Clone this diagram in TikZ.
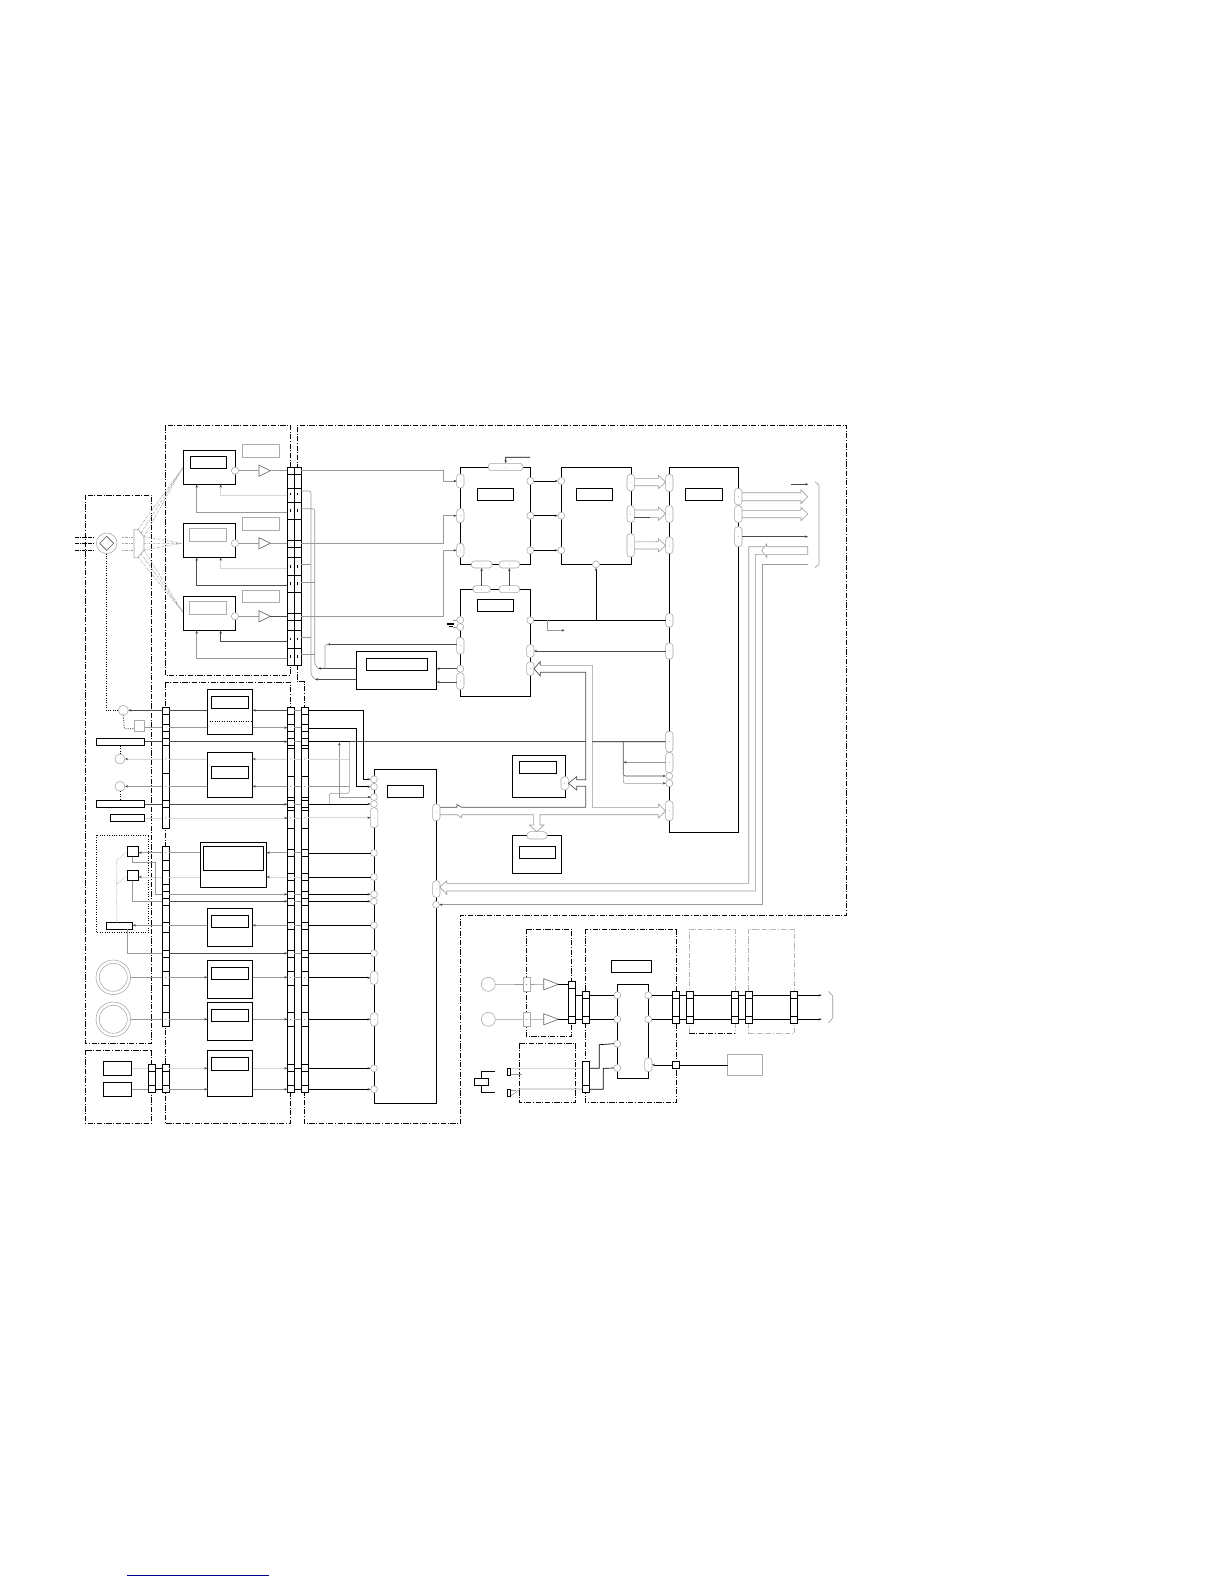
\documentclass[tikz,border=0pt]{standalone}
\usetikzlibrary{arrows.meta}
\tikzset{
 x=1pt,y=-1pt,
 bk/.style={draw=black,line width=.8pt,fill=white,inner sep=0pt,outer sep=0pt},
 gb/.style={draw=gray!65,line width=.8pt,fill=white,inner sep=0pt,outer sep=0pt},
 plst/.style={draw=gray!70,line width=.55pt,fill=white,inner sep=0pt,outer sep=0pt,rounded corners=3.2pt},
 crst/.style={circle,draw=gray!70,line width=.55pt,fill=white,inner sep=0pt,outer sep=0pt},
 bl/.style={draw=black,line width=.7pt},
 dl/.style={draw=gray!60!black,line width=.65pt},
 gl/.style={draw=gray!80,line width=.6pt},
 ll/.style={draw=gray!32,line width=1pt},
 dd/.style={draw=black,line width=.65pt,dash pattern=on 5.2pt off 1.6pt on 1pt off 1.6pt},
 dg/.style={draw=gray!60,line width=.9pt,dash pattern=on 5.2pt off 1.6pt on 1pt off 1.6pt},
 dt/.style={draw=black,line width=.7pt,dash pattern=on .9pt off 1.5pt},
 dtg/.style={draw=gray!60,line width=.6pt,dash pattern=on .9pt off 1.2pt},
 ray/.style={draw=gray!70,line width=.55pt,dash pattern=on 2pt off 1pt on .6pt off 1pt},
 ar/.style={-{Stealth[length=3pt,width=2.4pt,color=gray!50!black]}},
 rar/.style={{Stealth[length=3pt,width=2.4pt,color=gray!50!black]}-},
}
% box from corners
\newcommand\bx[6]{\node[#6,minimum width={(#4-#2)*1pt},minimum height={(#5-#3)*1pt}] (#1) at ({(#2+#4)/2},{(#3+#5)/2}) {};}
\newcommand\pl[5]{\node[plst,minimum width={(#4-#2)*1pt},minimum height={(#5-#3)*1pt}] (#1) at ({(#2+#4)/2},{(#3+#5)/2}) {};\fill[gray!60!black] ({(#2+#4)/2},{(#3+#5)/2}) circle (.3pt);}
\newcommand\crc[4]{\node[crst,minimum size={2*#4*1pt}] (#1) at (#2,#3) {};}
\newcommand\strp[6]{\bx{#1}{#2}{#4}{#3}{#5}{bk}\foreach \yy in {#6}{\draw[black,line width=.7pt] (#2,\yy) -- (#3,\yy);}}
\newcommand\tri[4]{\draw[draw=gray!80!black,line width=.6pt,fill=white] (#2,#4-5.6) -- (#3,#4) -- (#2,#4+5.6) -- cycle;\coordinate (#1w) at (#2,#4);\coordinate (#1e) at (#3,#4);}
\begin{document}
\begin{tikzpicture}
\useasboundingbox (0,0) rectangle (1224,1584);
\fill[white] (0,0) rectangle (1224,1584);
% dash-dot block outlines
\draw[dd] (165.3,425.3) rectangle (290.3,675.3);
\draw[dd] (297.3,667) -- (297.3,425.3) -- (846.7,425.3) -- (846.7,915) -- (460.5,915) -- (460.5,1123) -- (304.3,1123) -- (304.3,690) -- (304.3,681.7) -- (297.3,681.7) -- (297.3,667);
\draw[dd] (85.3,495) rectangle (151.7,1043.3);
\draw[dd] (85.3,1050) rectangle (151.7,1123);
\draw[dd] (165.3,682.3) rectangle (290.3,1123);
\draw[dd] (526.3,929) rectangle (571.7,1036.7);
\draw[dd] (519.3,1043.3) rectangle (575.7,1102.3);
\draw[dd] (585.3,929) rectangle (676.7,1102.3);
\draw[dg] (689.3,1033.3) -- (689.3,929) -- (735.3,929) -- (735.3,1033.3);
\draw[dd] (689.3,1033.3) -- (735.3,1033.3);
\draw[dg] (748.3,929) rectangle (794.3,1033.3);
\draw[dt] (96.3,835) rectangle (148.7,932.3);

% motor and prism
\crc{mot}{106.7}{543.3}{10.3}
\draw[gray!70!black,line width=.6pt] (99.7,543.3) -- (106.7,536.3) -- (113.7,543.3) -- (106.7,550.3) -- cycle;
\draw[black,line width=.6pt,dash pattern=on 3.5pt off 1.2pt on .8pt off 1.2pt] (75,537) -- (94,537) (75,543.3) -- (94,543.3) (75,550) -- (94,550);
\draw[ray] (121.7,537) -- (134,537) (121.7,543.3) -- (134,543.3) (121.7,550) -- (134,550);

% upper CCD boxes
\bx{c1}{183.3}{450.3}{235.7}{484.3}{bk}
\bx{c1i}{190.3}{456.3}{226.7}{468.3}{bk}
\bx{c2}{183.3}{523.3}{235.7}{557.3}{bk}
\bx{c2i}{189.3}{528.3}{226.7}{541.7}{gb}
\bx{c3}{183.3}{596.3}{235.7}{630.3}{bk}
\bx{c3i}{189.3}{601.7}{226.7}{614.3}{gb}
\bx{t1}{242.3}{444.3}{279.3}{457}{gb}
\bx{t2}{242.3}{517.3}{279.3}{530}{gb}
\bx{t3}{242.3}{590.3}{279.3}{602.7}{gb}
\draw[ray] (138,529.3) -- (183,467.3) (141,533) -- (183,467.3) (144,536.7) -- (183,467.3);
\draw[ray] (144,536.7) -- (181.7,543.3) (144,543.3) -- (181.7,543.3) (144,550) -- (181.7,543.3);
\draw[ray] (138,557.3) -- (183,612.3) (141,553.6) -- (183,612.3) (144,550) -- (183,612.3);
\draw[draw=gray!75,line width=.6pt,fill=white] (134,529.3) -- (138,529.3) -- (144,536.7) -- (144,550) -- (138,557.3) -- (134,557.3) -- cycle;
\draw[dt] (106.7,553.6) -- (106.7,710.3);
\crc{co1}{235}{470.7}{3.6}\crc{co2}{235}{543.3}{3.6}\crc{co3}{235}{616.3}{3.6}
\tri{a1}{259}{270.3}{470.7}\tri{a2}{259}{270.3}{543.3}\tri{a3}{259}{270.3}{616.3}

% upper strips
\strp{su}{287.3}{294.3}{467.3}{665.3}{474,488.3,502.3,519.3,540.7,547.7,557.3,575,592.3,613.3,620.3,630.7,648.3,665.3}
\strp{sv}{294.3}{301.3}{467.3}{665.3}{474,488.3,502.3,519.3,540.7,547.7,557.3,575,592.3,613.3,620.3,630.7,648.3,665.3}
\foreach \y in {493.7,510.3,566.3,583.3,638.7,656.3}{\draw[black,line width=.5pt] (290.6,\y-1.2) -- (290.6,\y+1.2) (297.6,\y-1.2) -- (297.6,\y+1.2);}

% DSP / ADC blocks
\bx{adc}{460.3}{467.3}{530.3}{564.3}{bk}
\bx{adci}{477.3}{488.3}{513.3}{500.7}{bk}
\bx{tgb}{561.3}{467.3}{631.7}{564.3}{bk}
\bx{tgbi}{576}{488.3}{612.7}{500.7}{bk}
\bx{dsp}{460.3}{589.3}{530.3}{696.3}{bk}
\bx{dspi}{477.3}{599.3}{513.3}{611.3}{bk}
\bx{mn}{669.3}{467.3}{738.3}{832.3}{bk}
\bx{mni}{685.3}{488.3}{722.7}{500.7}{bk}
\bx{pw}{356.3}{651.3}{436.7}{689.3}{bk}
\bx{pwi}{366.3}{658.3}{427.7}{670.7}{bk}
\bx{sm}{512.3}{755.7}{565.7}{797.3}{bk}
\bx{smi}{519.3}{761.7}{556.7}{773.3}{bk}
\bx{sn}{512.3}{835.3}{561.7}{873.3}{bk}
\bx{sni}{519.3}{846.3}{555.7}{858.3}{bk}
\bx{ct}{374.3}{769.3}{436.3}{1103}{bk}
\bx{cti}{387.3}{785.3}{423.3}{797.3}{bk}

% pills and circles on those blocks
\pl{al1}{456.6}{474}{464}{488}\pl{al2}{456.6}{508.7}{464}{522.7}\pl{al3}{456.6}{543.3}{464}{557.3}
\pl{atp}{488.3}{463.3}{523}{470.7}
\crc{ar1}{530.3}{481}{3.5}\crc{ar2}{530.3}{515.7}{3.5}\crc{ar3}{530.3}{550.3}{3.5}
\crc{tl1}{561.3}{481}{3.5}\crc{tl2}{561.3}{515.7}{3.5}\crc{tl3}{561.3}{550.3}{3.5}
\crc{tb}{596}{564.3}{3.5}
\pl{tr1}{627}{474.3}{634.4}{491}\pl{tr2}{627}{505.7}{634.4}{522.3}\pl{tr3}{627}{533.7}{634.4}{557}
\pl{ab1}{471.3}{561}{492}{568}\pl{ab2}{499}{561}{519.7}{568}
\pl{dt1}{473}{585.7}{490.3}{592.7}\pl{dt2}{499}{585.7}{519.7}{592.7}
\crc{dl1}{460.3}{620}{3.5}\crc{dl2}{460.3}{627}{3.5}
\pl{dl3}{456.6}{637.3}{464}{654}\crc{dl4}{460.3}{668.7}{3.5}\pl{dl5}{456.6}{672.7}{464}{689.3}
\crc{dr1}{530.3}{620.3}{3.5}\pl{dr2}{526.6}{644.7}{534}{657.3}\pl{dr3}{526.6}{662}{534}{675.3}
\pl{ml1}{665.6}{474.3}{673}{491.7}\pl{ml2}{665.6}{505.7}{673}{522.3}\pl{ml3}{665.6}{537}{673}{553.7}
\pl{ml4}{665.6}{613.6}{673}{627}\pl{ml5}{665.6}{643}{673}{659}
\pl{ml6}{665.6}{731.3}{673}{752}\pl{ml7}{665.6}{752.3}{673}{772.7}
\crc{ml8}{669.3}{776}{3.5}\crc{ml9}{669.3}{783.3}{3.5}\pl{mla}{665.6}{800.7}{673}{820.7}
\pl{mr1}{734.6}{488.3}{742}{505}\pl{mr2}{734.6}{505.7}{742}{522.3}\pl{mr3}{734.6}{526.7}{742}{546.7}
\pl{smp}{561}{776.6}{568.4}{790}
\pl{snp}{527}{831.7}{547}{839}

% lower centre block ports
\crc{k1}{374}{779.3}{3.4}\crc{k2}{374}{786.7}{3.4}\crc{k3}{374}{797}{3.4}\crc{k4}{374}{804}{3.4}
\pl{k5}{370.4}{807.7}{377.8}{827.7}
\crc{k6}{374}{853}{3.4}\crc{k7}{374}{877}{3.4}\crc{k8}{374}{894.3}{3.4}\crc{k9}{374}{901.3}{3.4}
\crc{k10}{374}{925.3}{3.4}\crc{k11}{374}{953.3}{3.4}\pl{k12}{370.4}{971.3}{377.8}{984.3}\pl{k13}{370.4}{1012.7}{377.8}{1026}
\crc{k14}{374}{1068.3}{3.4}\crc{k15}{374}{1089.3}{3.4}
\pl{m1}{432.6}{804}{440}{820.7}\pl{m2}{432.6}{880.7}{440}{897.3}\crc{m3}{436}{904.7}{3.4}

% mid boxes
\bx{b1}{207.3}{689.3}{252.7}{734.3}{bk}\bx{b1i}{211.3}{696.3}{248.7}{708.3}{bk}
\draw[dt] (207.3,721.3) -- (252.7,721.3);
\bx{b2}{207.3}{752.3}{252.7}{797.3}{bk}\bx{b2i}{211.3}{766.3}{248.7}{778.7}{bk}
\bx{b3}{200.3}{842.3}{266.7}{887.3}{bk}\bx{b3i}{203.3}{846.3}{263.7}{870.3}{bk}
\bx{b4}{207.3}{908.3}{252.7}{946.3}{bk}\bx{b4i}{211.3}{915.3}{248.7}{927.3}{bk}
\bx{b5}{207.3}{960.3}{252.7}{998.7}{bk}\bx{b5i}{211.3}{967.3}{248.7}{979.7}{bk}
\bx{b6}{207.3}{1002.3}{252.7}{1040.3}{bk}\bx{b6i}{211.3}{1009.3}{248.7}{1021.7}{bk}
\bx{b7}{207.3}{1050.3}{252.7}{1096.7}{bk}\bx{b7i}{211.3}{1057.3}{248.7}{1070.3}{bk}

% mid strips
\strp{l1}{162.3}{169.3}{707.3}{828.3}{714.3,724.3,731.3,738.7,745.7,773.7,800.7,807.7}
\strp{l2}{162.3}{169.3}{846.3}{1026.7}{860.7,870,884,891.3,898.3,905.3,922.3,932.3,950,957.3,971.3,985.3,1012.3}
\strp{l3}{162.3}{169.3}{1064.3}{1092.7}{1071.7,1085.3}
\strp{l4}{148.3}{155.3}{1064.3}{1092.7}{1071.7,1085.3}
\strp{r1}{287.3}{294.3}{707.3}{1092.7}{714.3,724.3,731.3,738.7,745.7,748.3,776.7,797.3,800.7,807.7,810.7,828.3,849.3,856.3,873.3,880.3,891.3,898.3,905.3,922.3,929.3,950,957.3,971.3,985.3,1012.3,1026.7,1064.3,1071.7,1085.3}
\strp{r2}{301.3}{308.3}{707.3}{1092.7}{714.3,724.3,731.3,738.7,745.7,748.3,776.7,797.3,800.7,807.7,810.7,828.3,849.3,856.3,873.3,880.3,891.3,898.3,905.3,922.3,929.3,950,957.3,971.3,985.3,1012.3,1026.7,1064.3,1071.7,1085.3}
\foreach \y in {852.7,759,786.3,818,977.7,1019.3}{\fill[black] (165.8,\y) circle (.4pt);}
\foreach \y in {759,786.3,818,977.7,1019.3}{\fill[black] (290.8,\y) circle (.4pt) (304.8,\y) circle (.4pt);}

% left-side parts
\crc{e1}{123.3}{710.3}{5}
\bx{e2}{134}{720.7}{144.7}{731.7}{gb}
\bx{e3}{96.3}{738.7}{144.7}{745.7}{bk}
\crc{e4}{120}{759}{5}\crc{e5}{120}{786.3}{5}
\bx{e6}{96.3}{800.3}{144.7}{807.3}{bk}
\bx{e7}{110.3}{814.3}{144.7}{821.3}{bk}
\bx{q1}{127.3}{846.3}{138.7}{856.7}{bk}
\bx{q2}{127.3}{870.3}{138.7}{880.7}{bk}
\bx{e8}{106.3}{922.3}{132.7}{929.3}{bk}
\crc{d1}{113.3}{977.3}{17.3}\crc{d1i}{113.3}{977.3}{14}
\crc{d2}{113.3}{1019.3}{17.3}\crc{d2i}{113.3}{1019.3}{14}
\bx{f1}{103.3}{1061.3}{131.7}{1075.3}{bk}
\bx{f2}{103.3}{1082.3}{131.7}{1096.3}{bk}
\draw[dt] (e1.west) -- (106.7,710.3);
\draw[dt] (e1.south) -- (124.3,728.7) -- (e2.west |- 0,728.7);
\draw[dt] (e3.south -| e4) -- (e4.north);
\draw[dt] (e5.south) -- (e6.north -| e5);
\draw[dtg] (q1.west) -- (116.7,860) -- (116.7,922.3);
\draw[dtg] (q2.west) -- (116.7,884);

% upper block wires
\draw[gl] (co1.east) -- (a1w) (co2.east) -- (a2w) (co3.east) -- (a3w);
\draw[gl] (a1e) -- (su.west |- a1e) (a2e) -- (su.west |- a2e);
\draw[dl] (a3e) -- (su.west |- a3e);
\draw[gl,ar] (sv.east |- a1e) -- (443.3,470.7) -- (443.3,481) -- (al1.west);
\draw[gl,ar] (sv.east |- a2e) -- (443.3,543.3) -- (443.3,515.7) -- (al2.west);
\draw[gl,ar] (sv.east |- a3e) -- (443.3,616.3) -- (443.3,550.3) -- (al3.west);
\draw[ll,ar] (su.west |- 0,495) -- (220.7,495) -- (220.7,484.6);
\draw[gl,ar] (su.west |- 0,512.3) -- (196.7,512.3) -- (196.7,484.6);
\draw[ll,ar] (su.west |- 0,568) -- (220.7,568) -- (220.7,557.6);
\draw[dl,ar] (su.west |- 0,585.3) -- (196.7,585.3) -- (196.7,557.6);
\draw[dl,ar] (su.west |- 0,641) -- (220.7,641) -- (220.7,630.6);
\draw[gl,ar] (su.west |- 0,658.3) -- (196.7,658.3) -- (196.7,630.6);
\draw[gl,rounded corners=2pt] (sv.east |- 0,491) -- (311,491) -- (311,675) -- (315,679.3);
\draw[gl,rounded corners=2pt] (sv.east |- 0,508.7) -- (314.7,508.7) -- (314.7,664) -- (318,668.3);
\draw[gl] (sv.east |- 0,564.7) -- (311,564.7);
\draw[gl] (sv.east |- 0,582) -- (314.7,582);
\draw[gl] (sv.east |- 0,637.3) -- (311,637.3);
\draw[gl] (sv.east |- 0,654.3) -- (314.7,654.3);
\draw[dl,rar] (318,668.3) -- (pw.west |- 0,668.3);
\draw[dl,rar] (315,679.3) -- (pw.west |- 0,679.3);
\draw[dl,rar] (327,644.3) -- (dl3.west |- 0,644.3);
\draw[gl,rounded corners=2pt] (325,668.3) -- (325,644.3) -- (329,644.3);
\draw[dl,ar] (dl4.west) -- (pw.east |- dl4);
\draw[dl,ar] (dl5.west |- 0,682) -- (pw.east |- 0,682);
\draw[bl,rar] (atp.north) -- (505.7,457.3) -- (530,457.3);
\draw[bl,ar] (ar1.east) -- (tl1.west);
\draw[bl,ar] (ar2.east) -- (tl2.west);
\draw[bl,ar] (ar3.east) -- (tl3.west);
\draw[dl,ar] (dt1.north -| ab1) -- (ab1.south);
\draw[dl,ar] (dt2.north) -- (ab2.south);
\draw[bl] (dr1.east) -- (dr1.east -| ml4.west);
\draw[bl,ar] (596,620.3) -- (tb.south);
\draw[gl,ar] (547.3,620.3) -- (547.3,630.3) -- (564.7,630.3);
\draw[dl,rar] (dr2.east) -- (ml5.west);
\fill[black] (447,623) rectangle (454,625);
\draw[black,line width=.5pt] (449,626) -- (453,626);
\draw[gl] (453,620) -- (dl1.west);
\draw[gl] (453,627) -- (dl2.west);

% hollow bus arrows between TG and main
\foreach \a/\b/\c/\n in {478.3/485.7/482/ml1,510/517.3/513.7/ml2,541.7/549/545.3/ml3}{
 \draw[draw=gray!80,line width=.6pt] (tr1.east |- 0,\a) -- (658.3,\a) -- (658.3,\a-3) -- (665.7,\c) -- (658.3,\b+3) -- (658.3,\b) -- (tr1.east |- 0,\b);}
\draw[dl] (tr2.east |- 0,517.3) -- (650,517.3);
\draw[ll] (tr3.east |- 0,541.7) -- (655,541.7);
% out of main
\foreach \a/\b/\c in {492.7/500.7/496.7,510.3/517.7/514}{
 \draw[draw=gray!80,line width=.6pt] (mr1.east |- 0,\a) -- (801,\a) -- (801,\a-3) -- (807.7,\c) -- (801,\b+3) -- (801,\b) -- (mr1.east |- 0,\b);}
\draw[dl,ar] (790.7,484.3) -- (808.3,484.3);
\draw[dl,ar] (mr3.east |- 0,536.7) -- (808,536.7);
\draw[draw=gray!80,line width=.6pt] (807.7,546.7) -- (807.7,554.3) -- (766.7,554.3) -- (766.7,557.3) -- (761.7,550.5) -- (766.7,544) -- (766.7,546.7) -- cycle;
\draw[gl] (763.5,546.7) -- (748.7,546.7) -- (748.7,883.3) -- (446.7,883.3) -- (446.7,881) -- (439.8,887) -- (446.7,894.3) -- (446.7,891) -- (755.3,891) -- (755.3,554.3) -- (763.5,554.3);
\draw[gl,rar] (m3.east) -- (762.7,904.7) -- (762.7,564.7) -- (807.7,564.7);
\draw[gl] (815,481.7) -- (819,485) -- (819,564) -- (815,567.7);

% bus TG etc
\draw[gl] (540.3,665.3) -- (592.3,665.3) -- (592.3,807.3) -- (658.3,807.3) -- (658.3,804) -- (665.7,811) -- (658.3,818) -- (658.3,814.7) -- (540,814.7) -- (540,825) -- (544,825) -- (536.7,831.7) -- (529.3,825) -- (533.3,825) -- (533.3,814.7) -- (461.7,814.7) -- (461.7,817.7) -- (457,814.7) -- (440,814.7);
\draw[dl] (440,807.3) -- (457,807.3) -- (457,804.5) -- (461.7,807.3) -- (585.7,807.3) -- (585.7,786.3) -- (576.7,786.3) -- (576.7,790) -- (568.4,783.3) -- (576.7,776.6) -- (576.7,779.7) -- (585.7,779.7) -- (585.7,672.3) -- (540.3,672.3) -- (540.3,676) -- (534,668.7) -- (540.3,661.6) -- (540.3,665.3);
% main lower left
\draw[bl] (592.3,741.7) -- (ml6.west);
\draw[dl] (r2.east |- 0,741.7) -- (585.7,741.7);
\draw[bl] (r2.east |- 0,741.7) -- (350,741.7);
\draw[dl,rounded corners=2pt,ar] (623.3,741.7) -- (623.3,776) -- (ml8.west);
\draw[gl,rounded corners=2pt,ar] (623.3,770) -- (623.3,783.3) -- (ml9.west);
\draw[gl,ar] (ml7.west |- 0,762.3) -- (623.6,762.3);

% mid horizontal wires
\draw[dl,rar] (e1.east) -- (l1.west |- e1); \draw[dl] (l1.east |- e1) -- (b1.west |- e1);
\draw[dl,rar] (b1.east |- e1) -- (r1.west |- e1);
\draw[gl] (e2.east |- 0,727.7) -- (l1.west |- 0,727.7) (l1.east |- 0,727.7) -- (b1.west |- 0,727.7);
\draw[gl,ar] (b1.east |- 0,727.7) -- (r1.west |- 0,727.7);
\draw[dl] (e3.east |- 0,741.7) -- (l1.west |- 0,741.7);
\draw[dl,ar] (l1.east |- 0,741.7) -- (r1.west |- 0,741.7);
\draw[ll,rar] (e4.east) -- (l1.west |- e4); \draw[ll] (l1.east |- e4) -- (b2.west |- e4);
\draw[ll,rar] (b2.east |- e4) -- (r1.west |- e4);
\draw[gl,rar] (e5.east) -- (l1.west |- e5); \draw[gl] (l1.east |- e5) -- (b2.west |- e5);
\draw[gl,rar] (b2.east |- e5) -- (r1.west |- e5);
\draw[dl] (e6.east |- 0,804.3) -- (l1.west |- 0,804.3);
\draw[dl,ar] (l1.east |- 0,804.3) -- (r1.west |- 0,804.3);
\draw[ll] (e7.east |- 0,818) -- (l1.west |- 0,818);
\draw[ll,ar] (l1.east |- 0,818) -- (r1.west |- 0,818);
\draw[gl,rar] (q1.east |- 0,852.7) -- (l2.west |- 0,852.7);
\draw[gl] (l2.east |- 0,852.7) -- (b3.west |- 0,852.7);
\draw[gl,rar] (b3.east |- 0,852.7) -- (r1.west |- 0,852.7);
\draw[ll,rar] (q2.east |- 0,877) -- (l2.west |- 0,877);
\draw[ll] (l2.east |- 0,877) -- (b3.west |- 0,877);
\draw[ll,rar] (b3.east |- 0,877) -- (r1.west |- 0,877);
\draw[gl] (q1.south -| 132.3,0) -- (132.3,862.3) -- (155,862.3) -- (155,894.3) -- (l2.west |- 0,894.3);
\draw[gl] (q2.south -| 132.3,0) -- (132.3,901.3) -- (l2.west |- 0,901.3);
\draw[gl,ar] (l2.east |- 0,894.3) -- (r1.west |- 0,894.3);
\draw[dl,ar] (l2.east |- 0,901.3) -- (r1.west |- 0,901.3);
\draw[gl,rar] (e8.east |- 0,925.3) -- (l2.west |- 0,925.3);
\draw[gl] (l2.east |- 0,925.3) -- (b4.west |- 0,925.3);
\draw[gl,rar] (b4.east |- 0,925.3) -- (r1.west |- 0,925.3);
\draw[gl] (127.3,929.3) -- (127.3,953.3) -- (l2.west |- 0,953.3);
\draw[dl,ar] (l2.east |- 0,953.3) -- (r1.west |- 0,953.3);
\draw[gl] (d1.east) -- (l2.west |- d1); \draw[gl,ar] (l2.east |- d1) -- (b5.west |- d1); \draw[gl,ar] (b5.east |- d1) -- (r1.west |- d1);
\draw[gl] (d2.east) -- (l2.west |- d2); \draw[gl,ar] (l2.east |- d2) -- (b6.west |- d2); \draw[gl,ar] (b6.east |- d2) -- (r1.west |- d2);
\draw[ll] (f1.east |- 0,1068.3) -- (l4.west |- 0,1068.3); \draw[ll,ar] (l3.east |- 0,1068.3) -- (b7.west |- 0,1068.3); \draw[ll,ar] (b7.east |- 0,1068.3) -- (r1.west |- 0,1068.3);
\draw[gl] (f2.east |- 0,1089.3) -- (l4.west |- 0,1089.3); \draw[gl,ar] (l3.east |- 0,1089.3) -- (b7.west |- 0,1089.3); \draw[gl,ar] (b7.east |- 0,1089.3) -- (r1.west |- 0,1089.3);
\draw[bl] (l4.east |- 0,1068.3) -- (l3.west |- 0,1068.3) (l4.east |- 0,1089.3) -- (l3.west |- 0,1089.3);
\draw[bl] (r1.east |- 0,1068.3) -- (r2.west |- 0,1068.3) (r1.east |- 0,1089.3) -- (r2.west |- 0,1089.3);
\foreach \y/\s in {710.3/gl,727.7/gl,741.7/gl,759/ll,786.3/gl,804.3/gl,818/ll,852.7/gl,877/ll,894.3/gl,901.3/gl,925.3/gl,953.3/gl,977.7/gl,1019.3/gl}{\draw[\s] (r1.east |- 0,\y) -- (r2.west |- 0,\y);}

% right strip to centre block
\draw[bl,ar] (r2.east |- 0,710.7) -- (363.3,710.7) -- (363.3,779.3) -- (k1.west);
\draw[bl,ar] (r2.east |- 0,728.3) -- (356.3,728.3) -- (356.3,786.7) -- (k2.west);
\draw[gl,rar] (339.3,742.4) -- (339.3,797) -- (k3.west);
\draw[gl,ar] (345,797) -- (k3.west);
\draw[gl,rounded corners=2pt] (349.3,741.7) -- (349.3,793.3) -- (329.3,793.3) -- (329.3,804);
\draw[ll] (r2.east |- 0,759) -- (349.3,759);
\draw[gl] (r2.east |- 0,786.7) -- (349.3,786.7);
\draw[bl,ar] (r2.east |- 0,804) -- (k4.west);
\draw[ll,ar] (r2.east |- 0,817.7) -- (k5.west);
\draw[bl] (r2.east |- k6) -- (k6.west);
\draw[bl] (r2.east |- k7) -- (k7.west);
\draw[bl,ar] (r2.east |- k8) -- (k8.west);
\draw[bl,ar] (r2.east |- k9) -- (k9.west);
\draw[bl] (r2.east |- k10) -- (k10.west);
\draw[bl] (r2.east |- k11) -- (k11.west);
\draw[bl,ar] (r2.east |- k12) -- (k12.west);
\draw[bl,ar] (r2.east |- k13) -- (k13.west);
\draw[bl,ar] (r2.east |- k14) -- (k14.west);
\draw[bl,ar] (r2.east |- k15) -- (k15.west);

% lower right section
\crc{g1}{488.3}{984.3}{7}\crc{g2}{488.3}{1019.3}{7}
\bx{h1}{523}{977.7}{530.3}{991.3}{gb}\fill (526.6,984.3) circle (.4pt);
\bx{h2}{523}{1012.3}{530.3}{1026.3}{gb}\fill (526.6,1019.3) circle (.4pt);
\tri{j1}{543.7}{558.3}{984.3}\tri{j2}{543.7}{558.3}{1019.3}
\draw[gl] (g1.east) -- (h1.west) (h1.east) -- (j1w) (g2.east) -- (h2.west) (h2.east) -- (j2w);
\strp{u1}{568.3}{575.7}{981.3}{1023.3}{988.3,1016.3}
\strp{u2}{582.3}{589.7}{991.7}{1023.3}{998.3,1016.3}
\strp{u3}{582.3}{589.7}{1061.3}{1092.7}{1085.3}
\strp{u4}{672.3}{679.7}{991.7}{1023.3}{998.3,1016.3}
\strp{u5}{686.3}{693.7}{991.7}{1023.3}{998.3,1016.3}
\strp{u6}{731.7}{738.7}{991.7}{1023.3}{998.3,1016.3}
\strp{u7}{745.3}{752.7}{991.7}{1023.3}{998.3,1016.3}
\strp{u8}{790.3}{797.7}{991.7}{1023.3}{998.3,1016.3}
\bx{v1}{617.3}{984.3}{648.3}{1078.3}{bk}
\bx{v2}{611.3}{960.3}{651.7}{972.3}{bk}
\crc{n1}{617.3}{995.3}{3.5}\crc{n2}{617.3}{1019.3}{3.5}\crc{n3}{617.3}{1043.7}{3.5}\crc{n4}{617.3}{1068}{3.5}
\crc{w1}{648.3}{995.3}{3.5}\crc{w2}{648.3}{1019.3}{3.5}\pl{w3}{644.6}{1058}{652}{1071.7}
\bx{sq}{672.7}{1061.3}{679.7}{1068.3}{bk}
\bx{gr}{727.7}{1054}{762.7}{1075}{gb}
\foreach \y in {995.3,1019.3}{
 \draw[bl] (u1.east |- 0,\y) -- (u2.west |- 0,\y) (u2.east |- 0,\y) -- (n1.west |- 0,\y) (w1.east |- 0,\y) -- (u4.west |- 0,\y) (u4.east |- 0,\y) -- (u5.west |- 0,\y) (u5.east |- 0,\y) -- (u6.west |- 0,\y) (u6.east |- 0,\y) -- (u7.west |- 0,\y) (u7.east |- 0,\y) -- (u8.west |- 0,\y);
 \draw[bl,ar] (u8.east |- 0,\y) -- (821.7,\y);}
\draw[bl] (j1e) -- (u1.west |- j1e) (j2e) -- (u1.west |- j2e);
\draw[bl] (u3.east |- 0,1068.3) -- (599.3,1068.3) -- (599.3,1044.7) -- (n3.west);
\draw[bl] (u3.east |- 0,1089.3) -- (603.3,1089.3) -- (603.3,1068.3) -- (n4.west);
\draw[bl,ar] (sq.west |- w3) -- (w3.east);
\draw[bl] (sq.east |- w3) -- (gr.west |- w3);
\draw[gl] (828.3,991.3) -- (832.7,996) -- (832.7,1018) -- (828.3,1023);
\bx{y1}{507.7}{1068.3}{510.7}{1075.7}{bk}
\bx{y2}{507.7}{1089.3}{510.7}{1096.7}{bk}
\bx{rl}{474.3}{1078.3}{488.7}{1085.7}{bk}
\draw[bl] (rl.north) -- (481.5,1071.3) -- (495,1071.3) (rl.south) -- (481.5,1092.3) -- (495,1092.3);
\draw[ll] (y1.east |- 0,1068) -- (u3.west |- 0,1068);
\draw[gl] (y2.east |- 0,1096) -- (520,1089) -- (u3.west |- 0,1089);
\draw[gl] (y1.east |- 0,1074) -- (522,1074) (y2.east |- 0,1090) -- (516,1090);

% blue footnote rule
\coordinate (ba) at (127,1575); \coordinate (bb) at (269,1575);
\draw[draw=blue!55!black,line width=1pt] (ba) -- (bb);
\end{tikzpicture}
\end{document}
